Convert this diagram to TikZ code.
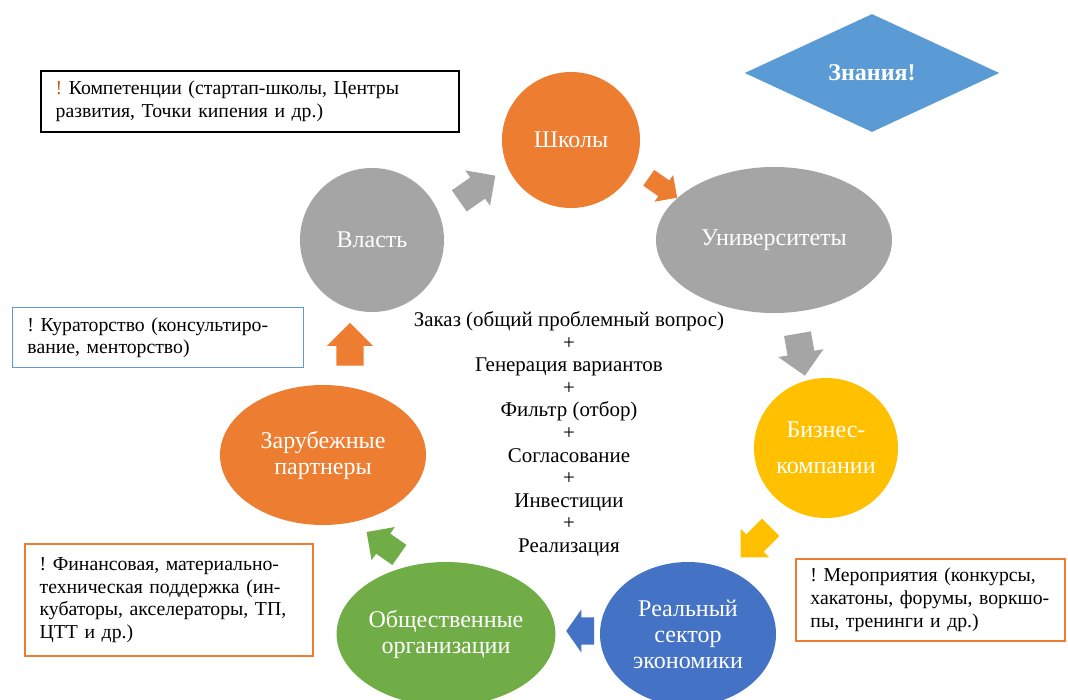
\documentclass[tikz,border=0pt]{standalone}
\usepackage{fontspec}
\setmainfont{Liberation Serif}
\usetikzlibrary{shapes.geometric,shapes.arrows}

\definecolor{ofOrange}{RGB}{237,125,49}
\definecolor{ofGray}{RGB}{165,165,165}
\definecolor{ofGold}{RGB}{255,192,0}
\definecolor{ofBlue}{RGB}{68,114,196}
\definecolor{ofGreen}{RGB}{112,173,71}
\definecolor{ofSky}{RGB}{91,155,213}
\definecolor{ofRust}{RGB}{197,90,17}

\tikzset{
  blob/.style={ellipse, inner sep=0pt, text=white, align=center,
    font=\fontsize{18}{19.5}\selectfont},
  notebox/.style={rectangle, anchor=north west, align=left, inner xsep=11pt,
    font=\fontsize{14.8}{17}\selectfont\frenchspacing},
  blockarrow/.style={single arrow, draw=none, inner xsep=0pt,
    single arrow head indent=0pt}
}

\begin{document}
\begin{tikzpicture}[x=0.75pt,y=0.75pt,yscale=-1,xscale=1]
\useasboundingbox (0,0) rectangle (1068,700);

%Shape: Ellipse [id:schools]
\node [blob, fill=ofOrange, minimum width=103.5pt, minimum height=102pt] (schools) at (571,140) {Школы};
%Shape: Ellipse [id:univ]
\node [blob, fill=ofGray, minimum width=177pt, minimum height=109.5pt] (univ) at (774,240) {Университеты};
%Shape: Ellipse [id:business]
\node [blob, fill=ofGold, minimum width=108pt, minimum height=105pt, font=\fontsize{18}{27}\selectfont] (business) at (826,448) {Бизнес-\\компании};
%Shape: Ellipse [id:realsector]
\node [blob, fill=ofBlue, minimum width=132pt, minimum height=108pt] (realsector) at (688,634) {Реальный\\сектор\\экономики};
%Shape: Ellipse [id:public]
\node [blob, fill=ofGreen, minimum width=162pt, minimum height=108pt] (public) at (446,634) {Общественные\\организации};
%Shape: Ellipse [id:foreign]
\node [blob, fill=ofOrange, minimum width=154.5pt, minimum height=105pt] (foreign) at (323,455) {Зарубежные\\партнеры};
%Shape: Ellipse [id:power]
\node [blob, fill=ofGray, minimum width=108pt, minimum height=108pt] (power) at (372,240) {Власть};

%Shape: Diamond [id:knowledge]
\node [diamond, fill=ofSky, inner sep=0pt, minimum width=191pt, minimum height=88.5pt, text=white, font=\fontsize{18}{20}\selectfont\bfseries] (knowledge) at (872,73) {Знания!};

%Shape: Single Arrow [id:arrPS]
\node [blockarrow, fill=ofGray, inner ysep=9.5pt, single arrow head extend=6.5pt, minimum height=33pt, rotate=35] (arrPS) at (472,192) {};
%Shape: Single Arrow [id:arrSU]
\node [blockarrow, fill=ofOrange, inner ysep=7pt, single arrow head extend=5pt, minimum height=26pt, rotate=-35] (arrSU) at (659,185) {};
%Shape: Single Arrow [id:arrUB]
\node [blockarrow, fill=ofGray, inner ysep=10pt, single arrow head extend=7pt, minimum height=32pt, rotate=-80] (arrUB) at (800,348) {};
%Shape: Single Arrow [id:arrBR]
\node [blockarrow, fill=ofGold, inner ysep=9pt, single arrow head extend=6pt, minimum height=32pt, rotate=-135] (arrBR) at (760,538) {};
%Shape: Single Arrow [id:arrRP]
\node [blockarrow, fill=ofBlue, inner ysep=10pt, single arrow head extend=6pt, single arrow tip angle=110, minimum height=21pt, rotate=180] (arrRP) at (585,631) {};
%Shape: Single Arrow [id:arrPF]
\node [blockarrow, fill=ofGreen, inner ysep=9pt, single arrow head extend=6pt, minimum height=30pt, rotate=145] (arrPF) at (388,547) {};
%Shape: Single Arrow [id:arrFP]
\node [blockarrow, fill=ofOrange, inner ysep=10pt, single arrow head extend=7pt, minimum height=32pt, rotate=90] (arrFP) at (350,351) {};

% Text Node
\node [notebox, draw=black, line width=1.5pt, minimum width=313.5pt, minimum height=45.75pt, text width=291.5pt] (competence) at (40,70) {\textcolor{ofRust}{!} Компетенции (стартап-школы, Центры\\развития, Точки кипения и др.)};
% Text Node
\node [notebox, draw=ofSky, line width=1pt, minimum width=218.25pt, minimum height=45pt, text width=196pt] (curator) at (12,307) {! Кураторство (консультиро-\\вание, менторство)};
% Text Node
\node [notebox, draw=ofOrange, line width=1.5pt, minimum width=216pt, minimum height=84pt, text width=194pt] (finance) at (24,543) {! Финансовая, материально-\\техническая поддержка (ин-\\кубаторы, акселераторы, ТП,\\ЦТТ и др.)};
% Text Node
\node [notebox, draw=ofOrange, line width=1.2pt, minimum width=201pt, minimum height=61.5pt, text width=180pt] (events) at (795,558) {! Мероприятия (конкурсы,\\хакатоны, форумы, воркшо-\\пы, тренинги и др.)};

% Text Node
\node [align=center, font=\fontsize{15.7}{16.9}\selectfont] (process) at (569,434) {Заказ (общий проблемный вопрос)\\+\\Генерация вариантов\\+\\Фильтр (отбор)\\+\\Согласование\\+\\Инвестиции\\+\\Реализация};

\end{tikzpicture}
\end{document}
